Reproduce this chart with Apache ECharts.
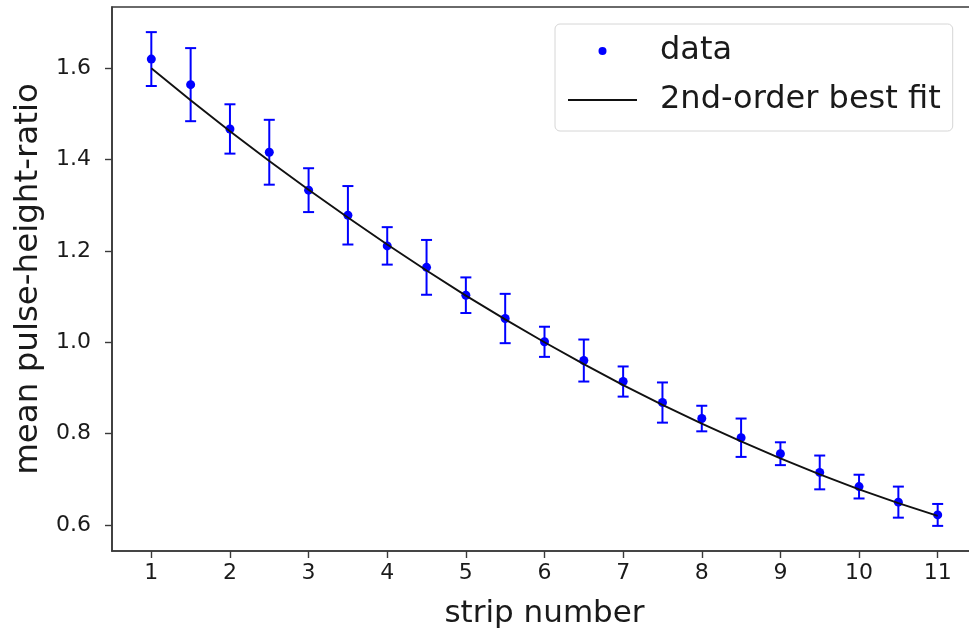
<!DOCTYPE html>
<html>
<head>
<meta charset="utf-8">
<script src="https://cdn.jsdelivr.net/npm/echarts@6/dist/echarts.min.js"></script>
<style>html,body{margin:0;padding:0;background:#fff;}#c{width:969px;height:633px;}</style>
</head>
<body>
<div id="c"></div>
<script>
const stripNumbers = [1, 1.5, 2, 2.5, 3, 3.5, 4, 4.5, 5, 5.5, 6, 6.5, 7, 7.5, 8, 8.5, 9, 9.5, 10, 10.5, 11];
const meanRatio = [1.620, 1.564, 1.467, 1.416, 1.333, 1.278, 1.211, 1.164, 1.103, 1.052, 1.001, 0.960, 0.914, 0.868, 0.833, 0.791, 0.756, 0.715, 0.684, 0.650, 0.622];
const ratioError = [0.059, 0.080, 0.054, 0.071, 0.048, 0.064, 0.041, 0.060, 0.039, 0.054, 0.033, 0.046, 0.033, 0.044, 0.028, 0.042, 0.025, 0.037, 0.026, 0.034, 0.024];
const fitRatio = [1.600, 1.530, 1.462, 1.397, 1.334, 1.273, 1.214, 1.157, 1.102, 1.050, 1.000, 0.952, 0.906, 0.863, 0.822, 0.783, 0.746, 0.711, 0.678, 0.648, 0.620];
const xTickValues = [1, 2, 3, 4, 5, 6, 7, 8, 9, 10, 11];
const yTickValues = [0.6, 0.8, 1.0, 1.2, 1.4, 1.6];

const FONT = 'DejaVu Sans';
const TXT = '#1a1a1a';
const AX = '#3a3a3a';

const pointData = stripNumbers.map((x, i) => [x, meanRatio[i]]);
const errData = stripNumbers.map((x, i) => [x, meanRatio[i] - ratioError[i], meanRatio[i] + ratioError[i]]);
const fitData = stripNumbers.map((x, i) => [x, fitRatio[i]]);

const chart = echarts.init(document.getElementById('c'), null, {renderer: 'canvas'});
chart.setOption({
  animation: false,
  backgroundColor: '#fff',
  textStyle: {fontFamily: FONT},
  grid: {left: 112, top: 7, width: 865, height: 544, outerBoundsMode: 'none', containLabel: false,
    show: true, borderColor: AX, borderWidth: 1.6, backgroundColor: 'transparent'},
  legend: {
    orient: 'vertical', left: 555, top: 24,
    data: [{name: 'data'}, {name: '2nd-order best fit', icon: 'path://M0,0H69V1.8H0Z'}],
    itemWidth: 69, itemHeight: 8, itemGap: 13, symbolKeepAspect: true,
    padding: [9, 12, 13, 13],
    borderColor: '#d6d6d6', borderWidth: 1, borderRadius: 5, backgroundColor: '#fff',
    textStyle: {fontFamily: FONT, fontSize: 32, color: TXT, lineHeight: 36, padding: [0, 0, 0, 18]}
  },
  xAxis: {
    type: 'value', min: 0.5, max: 11.5,
    name: 'strip number', nameLocation: 'middle', nameGap: 47,
    nameTextStyle: {fontFamily: FONT, fontSize: 31, color: TXT},
    axisLine: {show: true, onZero: false, lineStyle: {color: AX, width: 1.6}},
    axisTick: {show: true, length: 7, customValues: xTickValues, lineStyle: {color: AX, width: 1.4}},
    axisLabel: {customValues: xTickValues, margin: 11, fontFamily: FONT, fontSize: 22, color: TXT},
    splitLine: {show: false}
  },
  yAxis: {
    type: 'value', min: 0.543, max: 1.734,
    name: 'mean pulse-height-ratio', nameLocation: 'middle', nameGap: 64, nameRotate: 90,
    nameTextStyle: {fontFamily: FONT, fontSize: 32.5, color: TXT},
    axisLine: {show: true, onZero: false, lineStyle: {color: AX, width: 1.6}},
    axisTick: {show: true, length: 7, customValues: yTickValues, lineStyle: {color: AX, width: 1.4}},
    axisLabel: {customValues: yTickValues, margin: 21, fontFamily: FONT, fontSize: 22, color: TXT,
      formatter: v => v.toFixed(1)},
    splitLine: {show: false}
  },
  series: [
    {
      type: 'custom', name: 'errors', z: 2,
      data: errData,
      encode: {x: 0, y: [1, 2]},
      renderItem: function (params, api) {
        const x = api.value(0);
        const top = api.coord([x, api.value(2)]);
        const bot = api.coord([x, api.value(1)]);
        const hw = 5.5;
        const st = {stroke: '#0000ff', lineWidth: 2};
        return {type: 'group', children: [
          {type: 'line', shape: {x1: top[0], y1: top[1], x2: bot[0], y2: bot[1]}, style: st},
          {type: 'line', shape: {x1: top[0] - hw, y1: top[1], x2: top[0] + hw, y2: top[1]}, style: st},
          {type: 'line', shape: {x1: bot[0] - hw, y1: bot[1], x2: bot[0] + hw, y2: bot[1]}, style: st}
        ]};
      }
    },
    {
      type: 'scatter', name: 'data', z: 3,
      data: pointData, symbol: 'circle', symbolSize: 9,
      itemStyle: {color: '#0000ff', opacity: 1}
    },
    {
      type: 'line', name: '2nd-order best fit', z: 4,
      data: fitData, symbol: 'none', showSymbol: false, smooth: false,
      lineStyle: {color: '#111', width: 1.9},
      itemStyle: {color: '#111'}
    }
  ]
});
</script>
</body>
</html>
